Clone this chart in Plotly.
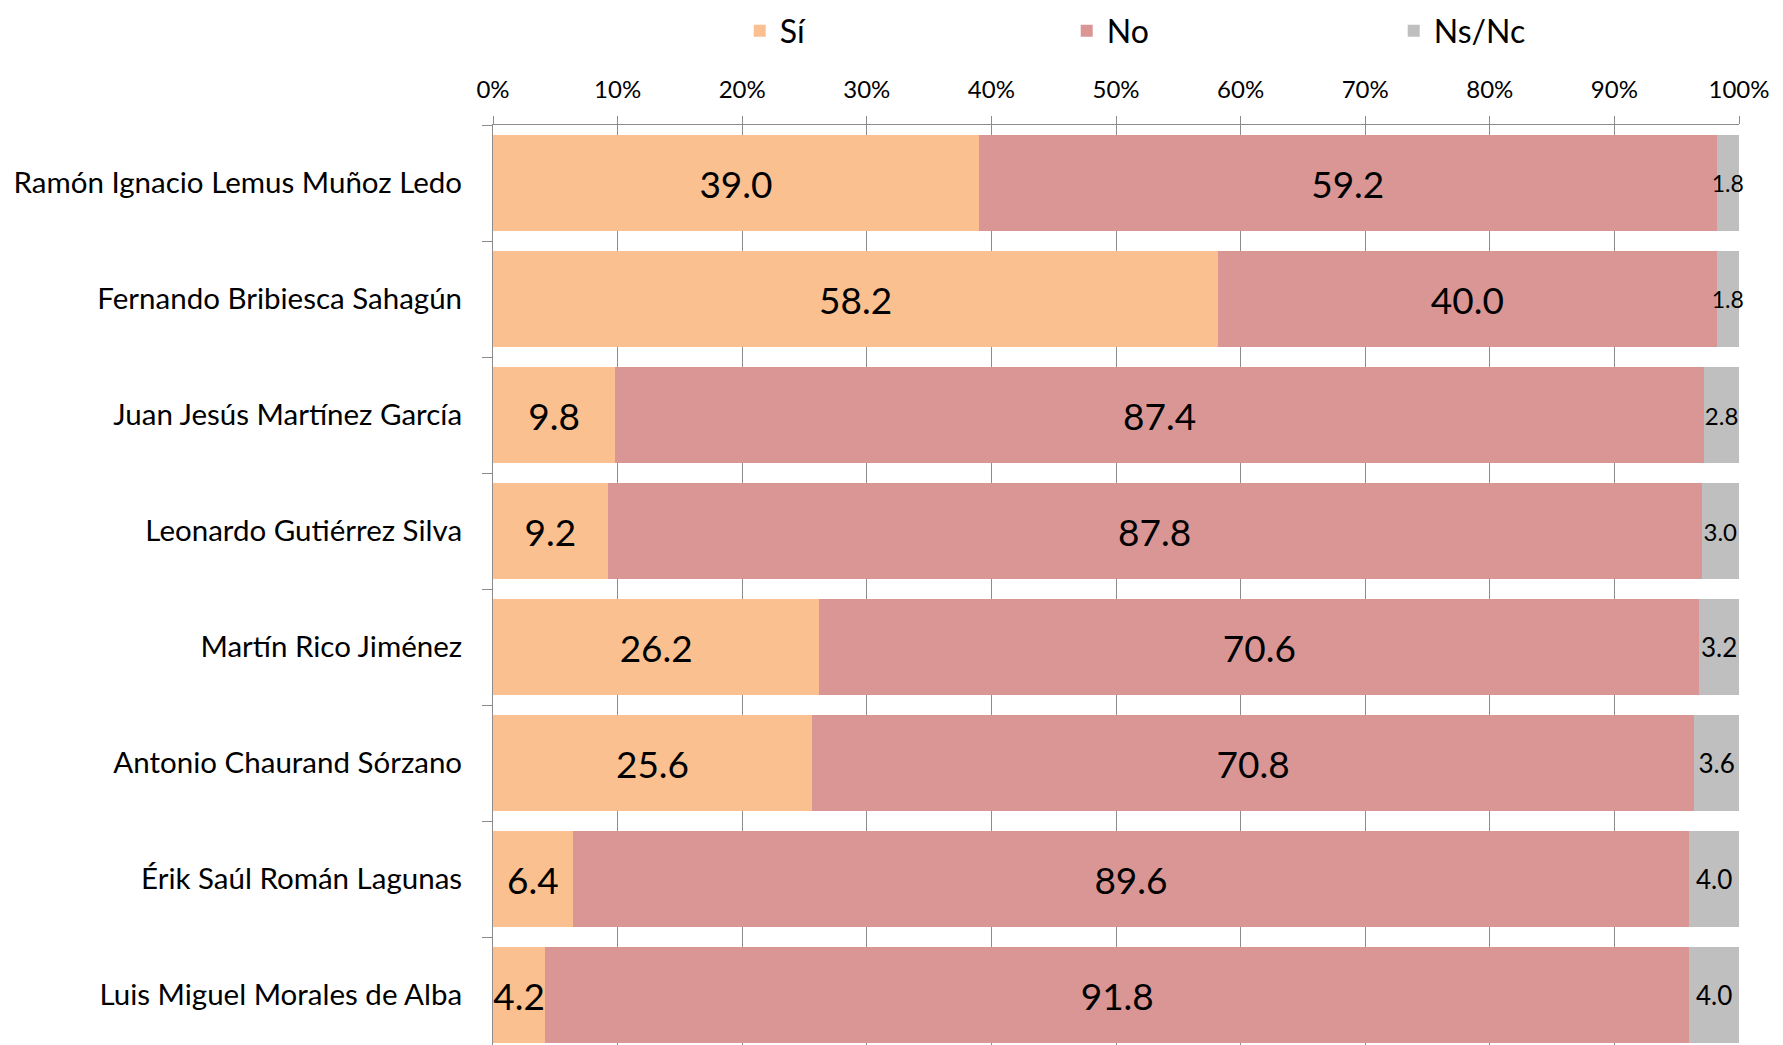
import plotly.graph_objects as go

# candidates, top to bottom
candidatos = [
    "Ramón Ignacio Lemus Muñoz Ledo",
    "Fernando Bribiesca Sahagún",
    "Juan Jesús Martínez García",
    "Leonardo Gutiérrez Silva",
    "Martín Rico Jiménez",
    "Antonio Chaurand Sórzano",
    "Érik Saúl Román Lagunas",
    "Luis Miguel Morales de Alba",
]
si = [39.0, 58.2, 9.8, 9.2, 26.2, 25.6, 6.4, 4.2]
no = [59.2, 40.0, 87.4, 87.8, 70.6, 70.8, 89.6, 91.8]
nsnc = [1.8, 1.8, 2.8, 3.0, 3.2, 3.6, 4.0, 4.0]

FONT = "Lato"

fig = go.Figure()
fig.add_trace(go.Bar(y=candidatos, x=si, name="Sí", orientation="h",
                     marker=dict(color="#FAC090", line=dict(width=0)),
                     text=[f"{v:.1f}" for v in si], textposition="inside", textangle=0,
                     insidetextanchor="middle", constraintext="none",
                     textfont=dict(family=FONT, size=37, color="black")))
fig.add_trace(go.Bar(y=candidatos, x=no, name="No", orientation="h",
                     marker=dict(color="#D99694", line=dict(width=0)),
                     text=[f"{v:.1f}" for v in no], textposition="inside", textangle=0,
                     insidetextanchor="middle", constraintext="none",
                     textfont=dict(family=FONT, size=37, color="black")))
fig.add_trace(go.Bar(y=candidatos, x=nsnc, name="Ns/Nc", orientation="h",
                     marker=dict(color="#BFBFBF", line=dict(width=0)),
                     text=[f"{v:.1f}" for v in nsnc], textposition="inside", textangle=0,
                     insidetextanchor="middle", constraintext="none",
                     cliponaxis=False,
                     textfont=dict(family=FONT, size=[23, 23, 24, 24, 26, 26, 26, 26], color="black")))

fig.update_layout(
    barmode="stack", bargap=0.17,
    width=1783, height=1045,
    margin=dict(l=485, r=52, t=117, b=0, autoexpand=False),
    plot_bgcolor="white", paper_bgcolor="white",
    font=dict(family=FONT, color="black"),
    legend=dict(orientation="h", x=0.198, y=1.131, xanchor="left", yanchor="top",
                font=dict(size=32), entrywidth=282, entrywidthmode="pixels",
                traceorder="normal"),
    xaxis=dict(side="top", range=[0, 100], dtick=10, ticksuffix="%",
               showgrid=True, gridcolor="#8C8C8C", gridwidth=1,
               showline=True, linecolor="#8C8C8C", linewidth=1,
               ticks="outside", ticklen=8, tickcolor="#8C8C8C", automargin=False,
               ticklabelstandoff=8, tickfont=dict(size=24), zeroline=False),
    yaxis=dict(autorange="reversed", tickson="boundaries", automargin=False,
               showline=True, linecolor="#8C8C8C", linewidth=1,
               ticks="outside", ticklen=10, tickcolor="#8C8C8C",
               ticklabelstandoff=24, tickfont=dict(size=29.5)),
)

fig.write_html("out.html")
